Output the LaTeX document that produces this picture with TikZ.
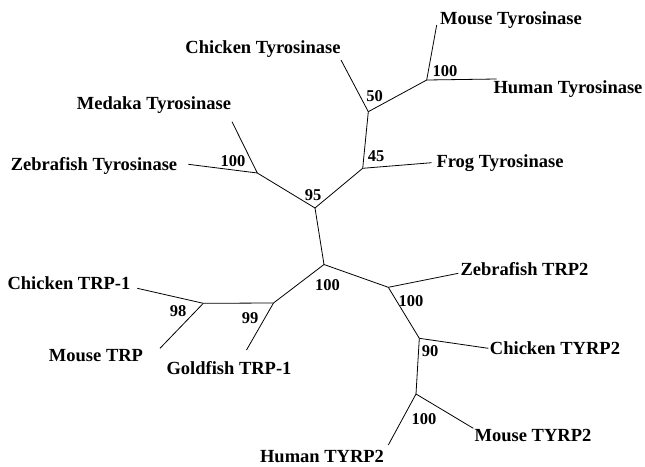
\documentclass[tikz,border=0pt]{standalone}
\usepackage{fontspec}
\setmainfont{Liberation Serif}
\begin{document}
\begin{tikzpicture}[x=1pt,y=-1pt,
  taxon/.style={font=\fontsize{18.5}{20}\selectfont\bfseries, inner sep=0pt, anchor=center},
  boot/.style={font=\fontsize{16.5}{18}\selectfont\bfseries, inner sep=0pt, anchor=center},
  branch/.style={draw=black, line width=0.8pt}]
\useasboundingbox[fill=white] (0,0) rectangle (645,466);
% internal nodes
\coordinate (MH) at (426.7,80);
\coordinate (CTn) at (368.3,111.7);
\coordinate (FN) at (362.7,168.3);
\coordinate (N95) at (315,208);
\coordinate (MZ) at (257.3,173);
\coordinate (root) at (324,264.5);
\coordinate (N99) at (273.5,303);
\coordinate (N98) at (203.3,303.3);
\coordinate (NZT) at (388.3,287.3);
\coordinate (N90) at (419.3,338.3);
\coordinate (NHM) at (416,394);
% leaf tips
\coordinate (tMT) at (436.7,25);
\coordinate (tHT) at (496.7,79);
\coordinate (tCT) at (341,60);
\coordinate (tFT) at (431.7,162.7);
\coordinate (tMed) at (232,121.7);
\coordinate (tZT) at (188.3,164.3);
\coordinate (tCTRP) at (137.3,288.3);
\coordinate (tMTRP) at (160,348.3);
\coordinate (tGF) at (246.5,350);
\coordinate (tZTRP) at (458.3,273.3);
\coordinate (tCTYRP) at (488.3,348.3);
\coordinate (tMTYRP) at (473.3,428.3);
\coordinate (tHTYRP) at (388.3,445);
% branches
\draw[branch] (MH) -- (tMT);
\draw[branch] (MH) -- (tHT);
\draw[branch] (CTn) -- (MH);
\draw[branch] (CTn) -- (tCT);
\draw[branch] (FN) -- (CTn);
\draw[branch] (FN) -- (tFT);
\draw[branch] (N95) -- (FN);
\draw[branch] (N95) -- (MZ);
\draw[branch] (MZ) -- (tMed);
\draw[branch] (MZ) -- (tZT);
\draw[branch] (root) -- (N95);
\draw[branch] (root) -- (N99);
\draw[branch] (N99) -- (N98);
\draw[branch] (N99) -- (tGF);
\draw[branch] (N98) -- (tCTRP);
\draw[branch] (N98) -- (tMTRP);
\draw[branch] (root) -- (NZT);
\draw[branch] (NZT) -- (tZTRP);
\draw[branch] (NZT) -- (N90);
\draw[branch] (N90) -- (tCTYRP);
\draw[branch] (N90) -- (NHM);
\draw[branch] (NHM) -- (tMTYRP);
\draw[branch] (NHM) -- (tHTYRP);
% taxon labels
\node[taxon] (lMT) at (511,20) {Mouse Tyrosinase};
\node[taxon] (lHT) at (568,89) {Human Tyrosinase};
\node[taxon] (lCT) at (263,49) {Chicken Tyrosinase};
\node[taxon] (lFT) at (500,163) {Frog Tyrosinase};
\node[taxon] (lMed) at (154,105) {Medaka Tyrosinase};
\node[taxon] (lZT) at (94,166) {Zebrafish Tyrosinase};
\node[taxon] (lCTRP) at (69,283) {Chicken TRP-1};
\node[taxon] (lMTRP) at (96,356) {Mouse TRP};
\node[taxon] (lGF) at (229,368) {Goldfish TRP-1};
\node[taxon] (lZTRP) at (524.5,269) {Zebrafish TRP2};
\node[taxon] (lCTYRP) at (555,348) {Chicken TYRP2};
\node[taxon] (lMTYRP) at (533,435) {Mouse TYRP2};
\node[taxon] (lHTYRP) at (322,456) {Human TYRP2};
% bootstrap values
\node[boot] (bMH) at (445,71) {100};
\node[boot] (bCT) at (374.5,96) {50};
\node[boot] (bFN) at (376,156) {45};
\node[boot] (bMZ) at (233,161) {100};
\node[boot] (b95) at (313,195) {95};
\node[boot] (broot) at (327.5,285) {100};
\node[boot] (b98) at (178,311) {98};
\node[boot] (b99) at (250,318) {99};
\node[boot] (bNZT) at (411,301) {100};
\node[boot] (b90) at (430,351) {90};
\node[boot] (bNHM) at (424,419) {100};
\end{tikzpicture}
\end{document}
